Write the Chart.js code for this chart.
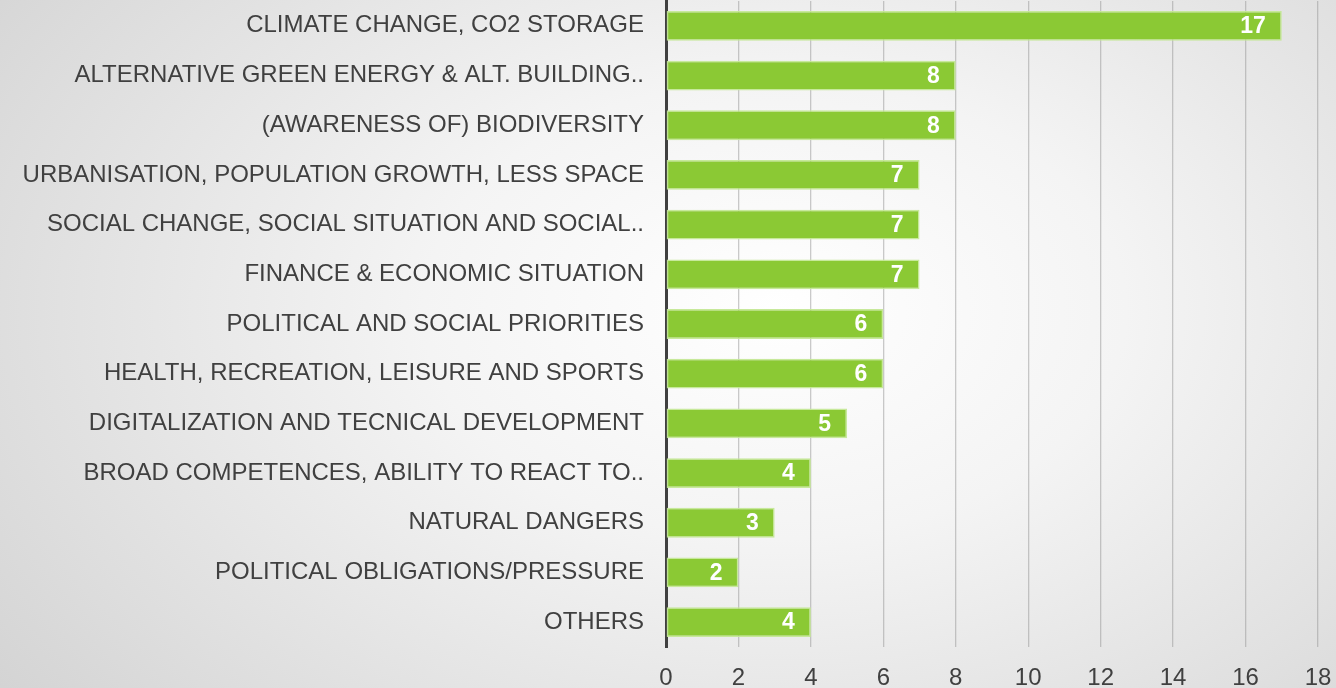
<!DOCTYPE html>
<html>
<head>
<meta charset="utf-8">
<script src="https://cdn.jsdelivr.net/npm/chart.js@4/dist/chart.umd.min.js"></script>
<style>
  html, body { margin: 0; padding: 0; }
  body {
    width: 1336px; height: 688px; overflow: hidden;
    background: radial-gradient(ellipse 75% 95% at 58% 45%, #ffffff 0%, #f4f4f4 35%, #d2d2d2 100%);
  }
  #wrap { width: 1336px; height: 688px; }
</style>
</head>
<body>
<div id="wrap"><canvas id="myBars"></canvas></div>
<script>
const categories = [
  "CLIMATE CHANGE, CO2 STORAGE",
  "ALTERNATIVE GREEN ENERGY & ALT. BUILDING..",
  "(AWARENESS OF) BIODIVERSITY",
  "URBANISATION, POPULATION GROWTH, LESS SPACE",
  "SOCIAL CHANGE, SOCIAL SITUATION AND SOCIAL..",
  "FINANCE & ECONOMIC SITUATION",
  "POLITICAL AND SOCIAL PRIORITIES",
  "HEALTH, RECREATION, LEISURE AND SPORTS",
  "DIGITALIZATION AND TECNICAL DEVELOPMENT",
  "BROAD COMPETENCES, ABILITY TO REACT TO..",
  "NATURAL DANGERS",
  "POLITICAL OBLIGATIONS/PRESSURE",
  "OTHERS"
];
const counts = [17, 8, 8, 7, 7, 7, 6, 6, 5, 4, 3, 2, 4];
const xMin = 0;
const xMax = 18;
const xStep = 2;

const ctx = document.getElementById("myBars").getContext("2d");
const fontFamily = "'Liberation Sans', Arial, sans-serif";

// draws the white value labels inside the bar ends
const valueLabels = {
  id: "valueLabels",
  afterDatasetsDraw(chart) {
    const c = chart.ctx;
    const meta = chart.getDatasetMeta(0);
    c.save();
    c.fillStyle = "#ffffff";
    c.font = "bold 23px " + fontFamily;
    c.textAlign = "right";
    c.textBaseline = "middle";
    meta.data.forEach((bar, i) => {
      c.fillText(String(counts[i]), bar.x - 16, bar.y + 1);
    });
    c.restore();
  }
};

const data = {
  labels: categories,
  datasets: [
    {
      label: "Count",
      data: counts,
      backgroundColor: "#8bc934",
      borderColor: "rgba(196, 232, 150, 0.95)",
      borderWidth: 1.5,
      borderSkipped: false,
      categoryPercentage: 1,
      barPercentage: 0.6,
    },
  ],
};

const options = {
  indexAxis: "y",
  responsive: true,
  maintainAspectRatio: false,
  animation: false,
  layout: { padding: { top: 1, right: 0, left: 0, bottom: 0 } },
  plugins: {
    legend: { display: false },
    tooltip: { enabled: false },
  },
  scales: {
    x: {
      min: xMin,
      max: xMax,
      ticks: {
        stepSize: xStep,
        color: "#404040",
        padding: 17,
        font: { family: fontFamily, size: 24 },
      },
      grid: {
        color: "rgba(150,150,150,0.5)",
        lineWidth: 1.3,
        drawTicks: false,
      },
      border: { display: false },
      afterFit: (scale) => {
        scale.height = 41;
        scale.paddingRight = 18;
      },
    },
    y: {
      ticks: {
        color: "#404040",
        padding: 22,
        autoSkip: false,
        font: { family: fontFamily, size: 24 },
      },
      grid: { display: false, drawTicks: false },
      border: { display: true, color: "#404040", width: 3 },
      afterFit: (scale) => {
        scale.width = 666;
        scale.paddingTop = 0;
        scale.paddingBottom = 0;
      },
    },
  },
};

new Chart(ctx, {
  type: "bar",
  data: data,
  options: options,
  plugins: [valueLabels],
});
</script>
</body>
</html>
